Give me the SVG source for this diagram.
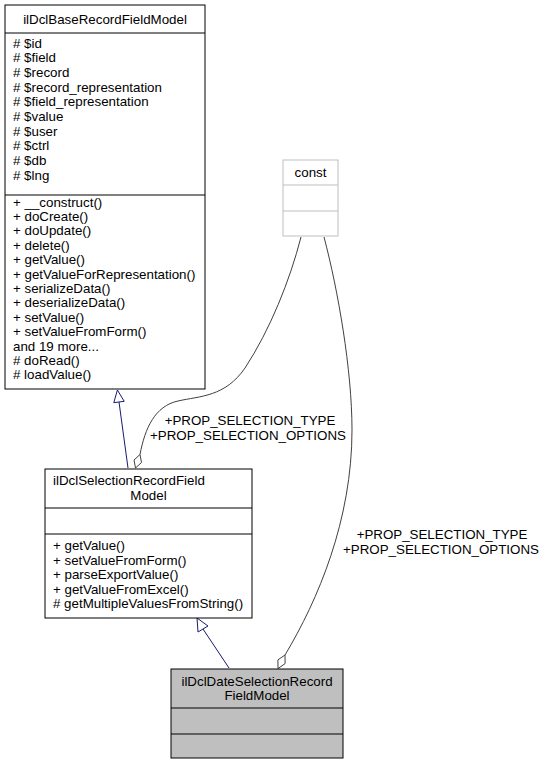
<svg xmlns="http://www.w3.org/2000/svg" width="545" height="765" viewBox="0 0 545 765">
<style>
text{font-family:"Liberation Sans",Arial,sans-serif;font-size:13.33px;fill:#000}
.c{text-anchor:middle}
.box{fill:#fff;stroke:#000;stroke-width:1}
.sep{stroke:#000;stroke-width:1}
.gbox{fill:#fff;stroke:#bfbfbf;stroke-width:1}
.gsep{stroke:#bfbfbf;stroke-width:1}
.inh{fill:none;stroke:#191970;stroke-width:1}
.inhh{fill:#fff;stroke:#191970;stroke-width:1}
.agg{fill:none;stroke:#404040;stroke-width:1}
.aggh{fill:#fff;stroke:#404040;stroke-width:1}
</style>
<rect width="545" height="765" fill="#fff"/>
<g id="connectors">
<path class="inh" d="M128,468 L119,402"/>
<polygon class="inhh" points="117.4,390 124.2,401.3 113.8,402.7"/>
<path class="inh" d="M229,668 L203,629"/>
<polygon class="inhh" points="197,618 208,626 198,632"/>
<path class="agg" d="M301,237 C290,280 270,330 245,368 C225,397 200,396 178,401 C155,406 145,428 140,454.5"/>
<polygon class="aggh" points="140,454.5 141.5,462.5 135.5,468 134,460"/>
<path class="agg" d="M324,237 C338,290 352,370 352,430 C352,520 318,600 285,655"/>
<polygon class="aggh" points="285,655 285.1,663.6 278,668.5 277.9,659.9"/>
<text class="c" x="250" y="425">+PROP_SELECTION_TYPE</text>
<text class="c" x="248" y="440">+PROP_SELECTION_OPTIONS</text>
<text class="c" x="442" y="539">+PROP_SELECTION_TYPE</text>
<text class="c" x="441" y="553.5">+PROP_SELECTION_OPTIONS</text>
</g>
<g id="ilDclBaseRecordFieldModel">
<rect class="box" x="5" y="5" width="200" height="384"/>
<line class="sep" x1="5" y1="33" x2="205" y2="33"/>
<line class="sep" x1="5" y1="195" x2="205" y2="195"/>
<text class="c" x="105" y="23.5">ilDclBaseRecordFieldModel</text>
<text x="13" y="47.5"># $id</text>
<text x="13" y="62.2"># $field</text>
<text x="13" y="76.9"># $record</text>
<text x="13" y="91.6"># $record_representation</text>
<text x="13" y="106.3"># $field_representation</text>
<text x="13" y="121"># $value</text>
<text x="13" y="135.7"># $user</text>
<text x="13" y="150.4"># $ctrl</text>
<text x="13" y="165.1"># $db</text>
<text x="13" y="179.8"># $lng</text>
<text x="13" y="206.5">+ __construct()</text>
<text x="13" y="220.9">+ doCreate()</text>
<text x="13" y="235.3">+ doUpdate()</text>
<text x="13" y="249.7">+ delete()</text>
<text x="13" y="264.1">+ getValue()</text>
<text x="13" y="278.5">+ getValueForRepresentation()</text>
<text x="13" y="292.9">+ serializeData()</text>
<text x="13" y="307.3">+ deserializeData()</text>
<text x="13" y="321.7">+ setValue()</text>
<text x="13" y="336.1">+ setValueFromForm()</text>
<text x="13" y="350.5">and 19 more...</text>
<text x="13" y="364.9"># doRead()</text>
<text x="13" y="379.3"># loadValue()</text>
</g>
<g id="const">
<rect class="gbox" x="283" y="160" width="55" height="76"/>
<line class="gsep" x1="283" y1="185" x2="338" y2="185"/>
<line class="gsep" x1="283" y1="211" x2="338" y2="211"/>
<text class="c" x="310.5" y="177">const</text>
</g>
<g id="ilDclSelectionRecordFieldModel">
<rect class="box" x="45" y="469" width="207" height="149"/>
<line class="sep" x1="45" y1="508" x2="252" y2="508"/>
<line class="sep" x1="45" y1="534" x2="252" y2="534"/>
<text x="53" y="485">ilDclSelectionRecordField</text>
<text class="c" x="148.5" y="500">Model</text>
<text x="53" y="550">+ getValue()</text>
<text x="53" y="564.5">+ setValueFromForm()</text>
<text x="53" y="579">+ parseExportValue()</text>
<text x="53" y="593.5">+ getValueFromExcel()</text>
<text x="53" y="608"># getMultipleValuesFromString()</text>
</g>
<g id="ilDclDateSelectionRecordFieldModel">
<rect class="box" x="171" y="669" width="172" height="89" fill="#bfbfbf" style="fill:#bfbfbf"/>
<line class="sep" x1="171" y1="708" x2="343" y2="708"/>
<line class="sep" x1="171" y1="734" x2="343" y2="734"/>
<text class="c" x="257" y="686">ilDclDateSelectionRecord</text>
<text class="c" x="257" y="699.5">FieldModel</text>
</g>
</svg>
